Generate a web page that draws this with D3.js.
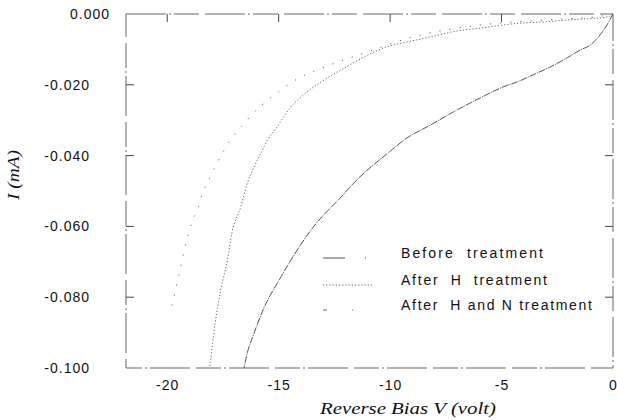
<html>
<head>
<meta charset="utf-8">
<style>
  body { margin: 0; background: #fff; }
  .tick text { font-family: Arial, "Liberation Sans", sans-serif; font-size: 14px; fill: #111; letter-spacing: 1px; }
  .title { font-family: "Liberation Serif", "Times New Roman", serif; font-style: italic; font-size: 16px; fill: #111; }
  .legend text { font-family: Arial, "Liberation Sans", sans-serif; font-size: 14px; fill: #111; white-space: pre; }
</style>
</head>
<body>
<script src="https://d3js.org/d3.v7.min.js"></script>
<script>
// reverse bias voltage (V) and current (mA)
var beforeV = [0, -0.27, -0.58, -1.03, -1.48, -2.06, -2.83, -3.59, -4.3, -4.93, -5.96, -7.17, -8.2, -9.24, -10.1, -11.5, -12.2, -13.45, -14.9, -15.7, -16.1, -16.5, -16.55];
var beforeI = [0, -0.0031, -0.0059, -0.0088, -0.0102, -0.0124, -0.0150, -0.0172, -0.0192, -0.0206, -0.0237, -0.0277, -0.0314, -0.0350, -0.0393, -0.0469, -0.0517, -0.0602, -0.0743, -0.0836, -0.0901, -0.0983, -0.1];

var afterHV = [0, -0.13, -0.58, -1.35, -2.06, -3.27, -4.2, -4.93, -5.96, -7.0, -8.2, -9.24, -10.3, -11.0, -12.2, -13.1, -13.9, -14.5, -15.07, -15.5, -15.8, -16.1, -16.4, -16.7, -17.1, -17.3, -17.6, -17.85, -18.07, -18.1];
var afterHI = [0, -0.0006, -0.0011, -0.0014, -0.0017, -0.0023, -0.0026, -0.0031, -0.0040, -0.0048, -0.0065, -0.0079, -0.0096, -0.0116, -0.0158, -0.0192, -0.0229, -0.0266, -0.0319, -0.0356, -0.0393, -0.0432, -0.0477, -0.0545, -0.0619, -0.0695, -0.0780, -0.0873, -0.0986, -0.1];

var afterHNV = [0, -1, -2, -3, -5, -7, -9, -11, -13.27, -14.1, -14.9, -16.3, -17.5, -18.2, -18.4, -18.6, -18.9, -19.2, -19.4, -19.6, -19.8];
var afterHNI = [0, -0.0010, -0.0013, -0.0017, -0.0025, -0.0040, -0.0065, -0.0107, -0.0158, -0.0181, -0.0215, -0.0291, -0.0390, -0.0477, -0.0503, -0.0545, -0.0590, -0.0658, -0.0715, -0.0771, -0.0828];

var xTicks = [-20, -15, -10, -5, 0];
var yTicks = [0, -0.02, -0.04, -0.06, -0.08, -0.1];
var seriesNames = ["Before  treatment", "After  H  treatment", "After  H and N treatment"];

var width = 617, height = 420;
var mLeft = 126, mRight = 613, mTop = 14, mBottom = 368;

var x = d3.scaleLinear().domain([-21.85, 0]).range([mLeft, mRight]);
var y = d3.scaleLinear().domain([-0.1, 0]).range([mBottom, mTop]);

// plain hyphen for minus, like the scan
function hy(f) { return function(d) { return f(d).replace("\u2212", "-"); }; }

var svg = d3.select("body").append("svg")
    .attr("width", width)
    .attr("height", height);

// frame, a bit broken like the scan
svg.append("rect")
    .attr("x", mLeft).attr("y", mTop)
    .attr("width", mRight - mLeft).attr("height", mBottom - mTop)
    .attr("fill", "none")
    .attr("stroke", "#666")
    .attr("stroke-width", 1)
    .attr("stroke-dasharray", "40,3,2,3,25,6");

var xAxis = svg.append("g")
    .attr("transform", "translate(0," + mBottom + ")")
    .call(d3.axisBottom(x).tickValues(xTicks).tickFormat(hy(d3.format("d"))).tickSize(0).tickPadding(12));
xAxis.select(".domain").remove();

var yAxis = svg.append("g")
    .attr("transform", "translate(" + mLeft + ",0)")
    .call(d3.axisLeft(y).tickValues(yTicks).tickFormat(hy(d3.format(".3f"))).tickSize(0).tickPadding(16));
yAxis.select(".domain").remove();
// the negative labels sit further left in the scan
yAxis.selectAll(".tick text").attr("x", function(d) { return d < 0 ? -36 : -16; });

// inward ticks on all four sides
var tickG = svg.append("g").attr("stroke", "#444").attr("stroke-width", 1);
yTicks.slice(1, -1).forEach(function(t) {
  tickG.append("line").attr("x1", mLeft).attr("x2", mLeft + 8).attr("y1", y(t)).attr("y2", y(t));
  tickG.append("line").attr("x1", mRight).attr("x2", mRight - 8).attr("y1", y(t)).attr("y2", y(t));
});
xTicks.slice(0, -1).forEach(function(t) {
  tickG.append("line").attr("x1", x(t)).attr("x2", x(t)).attr("y1", mTop).attr("y2", mTop + 8);
});

var line = d3.line()
    .x(function(d) { return x(d[0]); })
    .y(function(d) { return y(d[1]); })
    .curve(d3.curveMonotoneX);

var series = [
  { name: seriesNames[0], data: d3.zip(beforeV, beforeI), dash: "7,1,1,1", color: "#555", w: 1 },
  { name: seriesNames[1], data: d3.zip(afterHV, afterHI), dash: "1.2,2", color: "#666", w: 1 },
  { name: seriesNames[2], data: d3.zip(afterHNV, afterHNI), dash: "1.2,9", color: "#666", w: 1 }
];

svg.append("g").selectAll("path")
    .data(series)
    .enter().append("path")
    .attr("d", function(d) { return line(d.data); })
    .attr("fill", "none")
    .attr("stroke", function(d) { return d.color; })
    .attr("stroke-width", function(d) { return d.w; })
    .attr("stroke-dasharray", function(d) { return d.dash; });

// legend
var legend = svg.append("g").attr("class", "legend");
var legY = [253, 280, 305];
var legW = [142, 146, 191];
var legDash = ["22,20,1,20", "1.2,2", "4,25,1,20"];
series.forEach(function(s, i) {
  legend.append("line")
      .attr("x1", 323).attr("x2", 372)
      .attr("y1", legY[i] + 5).attr("y2", legY[i] + 5)
      .attr("stroke", s.color)
      .attr("stroke-width", 1)
      .attr("stroke-dasharray", legDash[i]);
  legend.append("text")
      .attr("x", 401).attr("y", legY[i])
      .attr("dy", "0.35em")
      .attr("textLength", legW[i])
      .attr("lengthAdjust", "spacing")
      .text(s.name);
});

// axis titles
svg.append("text")
    .attr("class", "title")
    .attr("x", 408).attr("y", 414)
    .attr("text-anchor", "middle")
    .attr("textLength", 176)
    .attr("lengthAdjust", "spacingAndGlyphs")
    .text("Reverse Bias V (volt)");

svg.append("text")
    .attr("class", "title")
    .attr("transform", "translate(19,175) rotate(-90)")
    .attr("text-anchor", "middle")
    .attr("textLength", 50)
    .attr("lengthAdjust", "spacingAndGlyphs")
    .text("I (mA)");
</script>
</body>
</html>
